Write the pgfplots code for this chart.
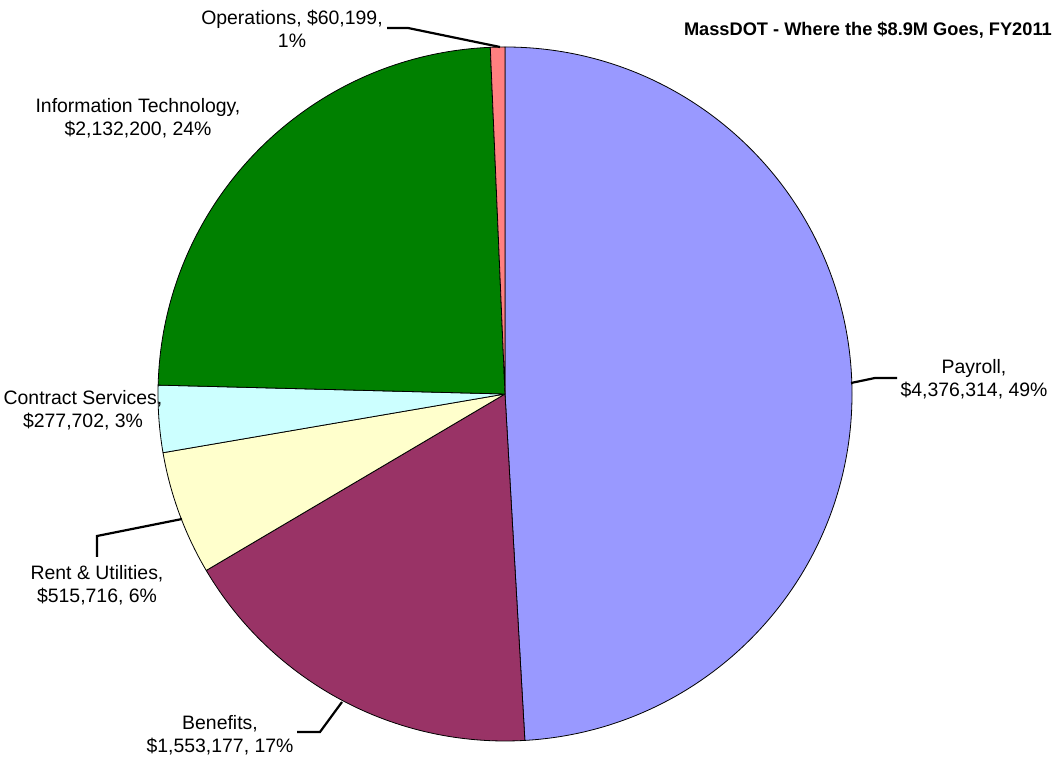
\documentclass[border=0pt]{standalone}
\usepackage{fontspec}
\setmainfont{Liberation Sans}
\usepackage{pgfplots}
\usepackage{pgfplotstable}
\pgfplotsset{compat=1.18}
\definecolor{payroll}{HTML}{9999FF}
\definecolor{benefits}{HTML}{993366}
\definecolor{rent}{HTML}{FFFFCC}
\definecolor{contract}{HTML}{CCFFFF}
\definecolor{itc}{HTML}{008000}
\definecolor{ops}{HTML}{FF8080}
\tikzset{lbl/.style={font=\fontsize{19.5}{23}\selectfont, align=center, inner sep=0pt}}
\pgfplotstableread{
label value color
Payroll 4376314 payroll
Benefits 1553177 benefits
Rent 515716 rent
Contract 277702 contract
IT 2132200 itc
Operations 60199 ops
}\piedata
\begin{document}
\begin{tikzpicture}
\begin{axis}[
  x=1bp, y=1bp, xmin=0, xmax=1061, ymin=0, ymax=757,
  hide axis, clip=false, anchor=origin, at={(0,0)},
]
\addplot[draw=none, forget plot] coordinates {(0,0) (1061,757)};
\path (axis cs:0,0) rectangle (axis cs:1061,757);
\pgfplotsextra{
  \xdef\tot{0}%
  \pgfplotstableforeachcolumnelement{value}\of\piedata\as\v{%
    \xdef\tot{\fpeval{\tot+\v}}}%
  \xdef\ang{90}%
  \pgfplotstableforeachcolumnelement{color}\of\piedata\as\c{%
    \pgfplotstablegetelem{\pgfplotstablerow}{value}\of\piedata
    \xdef\angb{\fpeval{\ang-360*\pgfplotsretval/\tot}}%
    \fill[fill=\c, draw=black, line width=0.8bp, line join=round]
      (axis cs:505,363) -- ++(\ang:347bp) arc[start angle=\ang, end angle=\angb, radius=347bp] -- cycle;
    \xdef\ang{\angb}%
  }%
}
% leader lines
\draw[line width=2.2bp] (axis cs:387,729) -- (axis cs:408,729) -- (axis cs:500,710);
\draw[line width=2.2bp] (axis cs:851,374) -- (axis cs:875,379) -- (axis cs:897,379);
\draw[line width=2.2bp] (axis cs:182,238) -- (axis cs:97,221) -- (axis cs:97,200);
\draw[line width=2.2bp] (axis cs:342,55) -- (axis cs:320,25) -- (axis cs:297,25);
% labels
\node[lbl] at (axis cs:292,728.5) {Operations, \$60,199,\\1\%};
\node[lbl] at (axis cs:138,638.5) {Information Technology,\\\$2,132,200, 24\%};
\node[lbl] at (axis cs:974,377.5) {Payroll,\\\$4,376,314, 49\%};
\node[lbl] at (axis cs:83,347) {Contract Services,\\\$277,702, 3\%};
\node[lbl] at (axis cs:97,172) {Rent \& Utilities,\\\$515,716, 6\%};
\node[lbl] at (axis cs:220,22) {Benefits,\\\$1,553,177, 17\%};
\node[anchor=east, inner sep=0pt, font=\bfseries\fontsize{18.3}{22}\selectfont] at (axis cs:1052,727) {MassDOT - Where the \$8.9M Goes, FY2011};
\end{axis}
\end{tikzpicture}
\end{document}
